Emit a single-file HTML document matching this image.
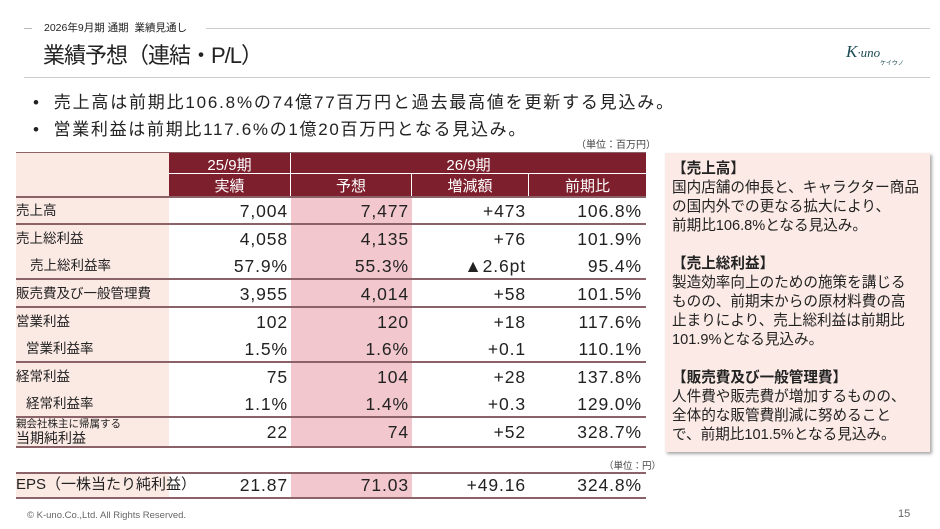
<!DOCTYPE html>
<html><head><meta charset="utf-8">
<style>
*{margin:0;padding:0;box-sizing:border-box}
body{width:940px;height:529px;background:#fff;position:relative;overflow:hidden;font-family:"Liberation Sans","Noto Sans CJK JP",sans-serif;color:#222}
.a{position:absolute;white-space:nowrap}
.hl{position:absolute;height:1px;background:#ccc}
.bg{position:absolute}
.ln{position:absolute;left:16px;width:630px;height:2px;background:#8a6268}
.n{position:absolute;text-align:right;font-size:17.5px;line-height:20px;letter-spacing:0.9px}
.lb{position:absolute;left:16px;font-size:13.5px;line-height:18px}
.hd{position:absolute;color:#fff;text-align:center;font-size:15px}
.pn{position:absolute;left:672px;font-size:14.6px;line-height:19px;color:#222}
</style></head><body>
<div class="hl" style="left:24px;top:28px;width:8px;background:#bbb"></div>
<div class="a" style="left:44px;top:20px;font-size:10.5px">2026年9月期 通期&nbsp; 業績見通し</div>
<div class="hl" style="left:206px;top:28px;width:724px;background:#ccc"></div>
<div class="a" style="left:43px;top:38px;font-size:22px;letter-spacing:-1px">業績予想（連結・P/L）</div>
<div class="hl" style="left:24px;top:77px;width:906px;background:#ccc"></div>
<div class="a" style="left:846px;top:42px;font-size:17px;color:#1d4a55;font-family:'Liberation Serif',serif;font-style:italic">K<span style="font-size:13px">·uno</span></div>
<div class="a" style="left:880px;top:58px;font-size:6px;color:#1d4a55">ケイウノ</div>
<div class="a" style="left:33px;top:88px;font-size:17px;letter-spacing:1.8px">•&nbsp; 売上高は前期比106.8%の74億77百万円と過去最高値を更新する見込み。</div>
<div class="a" style="left:33px;top:115px;font-size:17px;letter-spacing:1.7px">•&nbsp; 営業利益は前期比117.6%の1億20百万円となる見込み。</div>
<div class="a" style="left:576px;top:136px;font-size:10px;color:#444">（単位：百万円）</div>

<div class="bg" style="left:16px;top:153px;width:153px;height:294px;background:#fbe9e4"></div>
<div class="bg" style="left:16px;top:473px;width:153px;height:25px;background:#fbe9e4"></div>
<div class="bg" style="left:291px;top:196px;width:121px;height:251px;background:#f2c8ce"></div>
<div class="bg" style="left:291px;top:473px;width:121px;height:25px;background:#f2c8ce"></div>
<div class="bg" style="left:169px;top:153px;width:477px;height:43px;background:#7d1f2d"></div>
<div class="bg" style="left:169px;top:173px;width:477px;height:1px;background:#fff"></div>
<div class="bg" style="left:290px;top:153px;width:1px;height:43px;background:#fff"></div>
<div class="bg" style="left:411px;top:174px;width:1px;height:22px;background:#fff"></div>
<div class="bg" style="left:528px;top:174px;width:1px;height:22px;background:#fff"></div>
<div class="ln" style="top:152px;height:1px"></div>
<div class="hd" style="left:169px;top:154px;width:121px">25/9期</div>
<div class="hd" style="left:291px;top:154px;width:355px">26/9期</div>
<div class="hd" style="left:169px;top:175px;width:121px">実績</div>
<div class="hd" style="left:291px;top:175px;width:120px">予想</div>
<div class="hd" style="left:412px;top:175px;width:116px">増減額</div>
<div class="hd" style="left:529px;top:175px;width:117px">前期比</div>

<div class="ln" style="top:196px"></div>
<div class="ln" style="top:223px"></div>
<div class="ln" style="top:278px"></div>
<div class="ln" style="top:306px"></div>
<div class="ln" style="top:361px"></div>
<div class="ln" style="top:416px"></div>
<div class="ln" style="top:446px"></div>
<div class="ln" style="top:472px"></div>
<div class="ln" style="top:497px"></div>

<div class="lb" style="top:202px">売上高</div>
<div class="lb" style="top:230px">売上総利益</div>
<div class="lb" style="top:257px;left:30px">売上総利益率</div>
<div class="lb" style="top:285px">販売費及び一般管理費</div>
<div class="lb" style="top:313px">営業利益</div>
<div class="lb" style="top:340px;left:26px">営業利益率</div>
<div class="lb" style="top:368px">経常利益</div>
<div class="lb" style="top:395px;left:26px">経常利益率</div>
<div class="lb" style="top:418px;font-size:10.5px;line-height:13px">親会社株主に帰属する</div>
<div class="lb" style="top:429px;font-size:14px">当期純利益</div>
<div class="lb" style="top:476px;font-size:15px">EPS（一株当たり純利益）</div>

<div id="nums"></div>
<script>
const rows=[[201,"7,004","7,477","+473","106.8%"],[229,"4,058","4,135","+76","101.9%"],[256,"57.9%","55.3%","▲2.6pt","95.4%"],[284,"3,955","4,014","+58","101.5%"],[312,"102","120","+18","117.6%"],[339,"1.5%","1.6%","+0.1","110.1%"],[367,"75","104","+28","137.8%"],[394,"1.1%","1.4%","+0.3","129.0%"],[422,"22","74","+52","328.7%"],[475,"21.87","71.03","+49.16","324.8%"]];
const rights=[290,411,528,644];let h="";
rows.forEach(r=>{for(let i=0;i<4;i++){h+=`<div class="n" style="top:${r[0]}px;left:${rights[i]-115}px;width:113px">${r[i+1]}</div>`}});
document.getElementById("nums").innerHTML=h;
</script>
<div class="a" style="left:604px;top:458px;font-size:9.5px;color:#444">（単位：円）</div>

<div class="bg" style="left:665px;top:153px;width:265px;height:299px;background:#fbeae5;box-shadow:2px 2px 3px rgba(0,0,0,0.35)"></div>
<div class="pn" style="top:160px;font-weight:bold">【売上高】</div>
<div class="pn" style="top:179px">国内店舗の伸長と、キャラクター商品</div>
<div class="pn" style="top:198px">の国内外での更なる拡大により、</div>
<div class="pn" style="top:217px">前期比106.8%となる見込み。</div>
<div class="pn" style="top:255px;font-weight:bold">【売上総利益】</div>
<div class="pn" style="top:274px">製造効率向上のための施策を講じる</div>
<div class="pn" style="top:293px">ものの、前期末からの原材料費の高</div>
<div class="pn" style="top:312px">止まりにより、売上総利益は前期比</div>
<div class="pn" style="top:331px">101.9%となる見込み。</div>
<div class="pn" style="top:369px;font-weight:bold">【販売費及び一般管理費】</div>
<div class="pn" style="top:388px">人件費や販売費が増加するものの、</div>
<div class="pn" style="top:407px">全体的な販管費削減に努めること</div>
<div class="pn" style="top:426px">で、前期比101.5%となる見込み。</div>

<div class="a" style="left:27px;top:510px;font-size:9.5px;color:#666">© K-uno.Co.,Ltd. All Rights Reserved.</div>
<div class="a" style="left:898px;top:508px;font-size:11px;color:#666">15</div>
</body></html>
